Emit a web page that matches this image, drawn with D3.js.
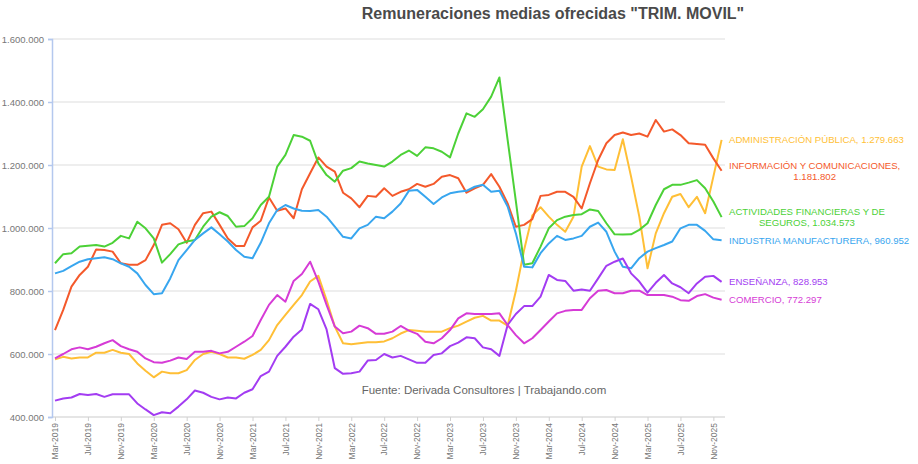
<!DOCTYPE html>
<html>
<head>
<meta charset="utf-8">
<script src="https://cdn.jsdelivr.net/npm/d3@7"></script>
<style>
body { margin: 0; background: #fff; }
text { font-family: "Liberation Sans", Arial, sans-serif; }
</style>
</head>
<body>
<script>
// salaries in thousands of pesos, one value per month, Mar-2019 .. Dic-2025
const firstMonth = new Date(2019, 2, 1)
const lastMonth = new Date(2025, 11, 1)
const monthNames = ['Ene', 'Feb', 'Mar', 'Abr', 'May', 'Jun', 'Jul', 'Ago', 'Sep', 'Oct', 'Nov', 'Dic']
const yTicks = [400, 600, 800, 1000, 1200, 1400, 1600]

const seriesNames = ['ADMINISTRACIÓN PÚBLICA', 'INFORMACIÓN Y COMUNICACIONES', 'ACTIVIDADES FINANCIERAS Y DE SEGUROS',
    'INDUSTRIA MANUFACTURERA', 'ENSEÑANZA', 'COMERCIO']
const seriesColors = ['#ffbf36', '#f4592b', '#4cd137', '#38a6ef', '#a33cf2', '#d63bd6']

const administracion = [583, 591, 586, 589, 589, 604, 604, 613, 604, 600, 570, 547, 526, 544, 539, 539, 549, 581, 600, 607,
    600, 589, 589, 585, 597, 613, 644, 692, 724, 756, 787, 830, 848, 771, 687, 634, 631, 634, 637, 637,
    640, 650, 665, 676, 674, 671, 671, 671, 682, 690, 703, 715, 721, 706, 706, 690, 800, 930, 1040, 1066,
    1036, 1010, 988, 1036, 1195, 1260, 1195, 1186, 1184, 1282, 1163, 1036, 872, 983, 1047, 1099, 1108, 1066, 1099, 1047,
    1163, 1279.663]
const informacion = [676, 740, 814, 851, 877, 932, 930, 925, 888, 883, 883, 898, 946, 1010, 1015, 996, 953, 1010, 1047, 1052,
    1010, 967, 943, 943, 1002, 1023, 1097, 1055, 1062, 1031, 1123, 1174, 1224, 1195, 1179, 1112, 1094, 1066, 1102, 1099,
    1126, 1102, 1115, 1123, 1140, 1131, 1140, 1163, 1168, 1158, 1112, 1126, 1137, 1171, 1131, 1078, 1004, 1010, 1028, 1102,
    1105, 1115, 1115, 1099, 1062, 1142, 1216, 1269, 1295, 1303, 1295, 1300, 1290, 1343, 1306, 1313, 1295, 1269, 1267, 1264,
    1221, 1181.802]
const financieras = [888, 917, 920, 941, 944, 946, 941, 953, 975, 967, 1020, 999, 967, 890, 917, 948, 957, 962, 1004, 1036,
    1050, 1038, 1004, 1006, 1031, 1073, 1099, 1195, 1232, 1295, 1290, 1277, 1205, 1168, 1147, 1182, 1190, 1211, 1205, 1200,
    1195, 1211, 1232, 1246, 1229, 1256, 1253, 1242, 1224, 1300, 1364, 1353, 1377, 1417, 1478, 1280, 1085, 883, 888, 941,
    999, 1025, 1036, 1041, 1044, 1059, 1054, 1015, 980, 979, 980, 994, 1015, 1073, 1123, 1137, 1137, 1144, 1152, 1126,
    1084, 1034.573]
const industria = [856, 864, 879, 893, 901, 904, 907, 901, 888, 877, 856, 819, 790, 793, 840, 898, 930, 962, 983, 1002,
    980, 957, 930, 909, 904, 953, 1015, 1057, 1073, 1062, 1055, 1054, 1057, 1036, 1004, 972, 967, 999, 1010, 1036,
    1031, 1052, 1078, 1118, 1121, 1099, 1076, 1097, 1110, 1115, 1118, 1131, 1137, 1115, 1118, 1068, 983, 877, 875, 920,
    951, 975, 962, 967, 975, 1004, 1017, 988, 925, 877, 872, 904, 925, 936, 946, 957, 999, 1010, 1010, 991,
    964, 960.952]
const ensenanza = [452, 459, 462, 473, 470, 473, 464, 472, 472, 472, 443, 424, 406, 415, 412, 433, 456, 484, 477, 464,
    456, 462, 459, 477, 488, 530, 544, 594, 623, 655, 678, 759, 742, 678, 555, 537, 539, 544, 579, 581,
    600, 589, 594, 583, 572, 572, 597, 602, 625, 636, 653, 650, 621, 615, 594, 692, 727, 752, 752, 782,
    851, 835, 832, 801, 805, 801, 840, 880, 893, 903, 856, 830, 795, 826, 851, 824, 812, 793, 824, 845,
    848, 828.953]
const comercio = [586, 600, 615, 621, 615, 623, 634, 644, 625, 615, 607, 586, 574, 572, 579, 589, 584, 607, 607, 610,
    602, 607, 623, 639, 657, 708, 756, 787, 766, 832, 854, 893, 830, 756, 687, 666, 671, 690, 682, 664,
    664, 671, 689, 674, 664, 639, 634, 650, 676, 713, 729, 727, 727, 727, 729, 692, 660, 634, 650, 676,
    703, 729, 737, 740, 740, 777, 801, 803, 793, 793, 801, 801, 787, 787, 787, 782, 771, 769, 784, 790,
    779, 772.297]

const allSeries = [administracion, informacion, financieras, industria, ensenanza, comercio]

window.onload = function() {
    const width = 918
    const height = 464
    const left = 52, right = 725, top = 39, bottom = 417

    const svg = d3.select('body')
        .append('svg')
        .attr('width', width)
        .attr('height', height)

    const es = d3.formatLocale({decimal: ',', thousands: '.', grouping: [3], currency: ['$', '']})
    const fmt = es.format(',.0f')

    const months = d3.timeMonth.range(firstMonth, d3.timeMonth.offset(lastMonth, 1))
    const monthLabel = d => monthNames[d.getMonth()] + '-' + d.getFullYear()

    const x = d3.scalePoint()
        .domain(months.map(monthLabel))
        .range([55, 721.6])

    const y = d3.scaleLinear()
        .domain([400, 1600])
        .range([bottom, top])

    // title
    svg.append('text')
        .attr('x', 553)
        .attr('y', 19)
        .attr('text-anchor', 'middle')
        .style('font-size', '16px')
        .style('font-weight', 'bold')
        .style('fill', '#4a4a4a')
        .text('Remuneraciones medias ofrecidas "TRIM. MOVIL"')

    // horizontal grid
    svg.append('g')
        .selectAll('line')
        .data(yTicks)
        .enter()
        .append('line')
        .attr('x1', left)
        .attr('x2', right)
        .attr('y1', d => y(d))
        .attr('y2', d => y(d))
        .attr('stroke', d => d === 400 ? '#dcdcdc' : '#e8e8e8')
        .attr('stroke-width', 1.5)

    // y axis
    const yAxis = svg.append('g')
        .attr('transform', 'translate(' + left + ',0)')
        .call(d3.axisLeft(y).tickValues(yTicks).tickSize(4).tickPadding(4).tickFormat(d => fmt(d * 1000)))
    yAxis.select('.domain').attr('stroke', '#b4c8ee').attr('stroke-width', 1.5)
    yAxis.selectAll('.tick line').attr('stroke', '#b4c8ee').attr('stroke-width', 1.5)
    yAxis.selectAll('.tick text')
        .style('font-size', '9.5px')
        .style('fill', '#777')
        .style('font-family', '"Liberation Sans", Arial, sans-serif')

    // x axis
    const tickMonths = x.domain().filter((d, i) => i % 4 === 0)
    const xAxis = svg.append('g')
        .attr('transform', 'translate(0,' + bottom + ')')
        .call(d3.axisBottom(x).tickValues(tickMonths).tickSize(4))
    xAxis.select('.domain').remove()
    xAxis.selectAll('.tick line').attr('stroke', '#d0d0d0')
    xAxis.selectAll('.tick text')
        .attr('transform', 'rotate(-90)')
        .attr('text-anchor', 'end')
        .attr('x', -6)
        .attr('y', 0)
        .attr('dy', '0.32em')
        .style('font-size', '8.5px')
        .style('fill', '#777')
        .style('font-family', '"Liberation Sans", Arial, sans-serif')

    // source
    svg.append('text')
        .attr('x', 484)
        .attr('y', 394)
        .attr('text-anchor', 'middle')
        .style('font-size', '11.5px')
        .style('fill', '#666')
        .text('Fuente: Derivada Consultores | Trabajando.com')

    // lines
    const line = d3.line()
        .x((d, i) => x(x.domain()[i]))
        .y(d => y(d))

    svg.append('g')
        .selectAll('path')
        .data(allSeries)
        .enter()
        .append('path')
        .attr('d', d => line(d))
        .attr('fill', 'none')
        .attr('stroke', (d, i) => seriesColors[i])
        .attr('stroke-width', 2)
        .attr('stroke-linejoin', 'round')

    // end labels, wrapped when too long
    const labels = svg.append('g')
    allSeries.forEach(function(s, i) {
        const last = s[s.length - 1]
        const words = (seriesNames[i] + ', ' + fmt(last * 1000)).split(' ')
        const t = labels.append('text')
            .style('font-size', '9.6px')
            .style('fill', seriesColors[i])
        const lines = []
        let current = []
        const probe = t.append('tspan')
        words.forEach(function(w) {
            const attempt = current.concat([w]).join(' ')
            probe.text(attempt)
            if (probe.node().getComputedTextLength() > 188 && current.length) {
                lines.push(current.join(' '))
                current = [w]
            } else {
                current.push(w)
            }
        })
        lines.push(current.join(' '))
        let widest = 0
        lines.forEach(function(l) {
            probe.text(l)
            widest = Math.max(widest, probe.node().getComputedTextLength())
        })
        probe.remove()
        const lh = 11
        const y0 = y(last) - (lines.length - 1) * lh / 2
        lines.forEach(function(l, j) {
            t.append('tspan')
                .attr('x', lines.length > 1 ? 729 + widest / 2 : 729)
                .attr('text-anchor', lines.length > 1 ? 'middle' : 'start')
                .attr('y', y0 + j * lh)
                .attr('dy', '0.35em')
                .text(l)
        })
    })
}
</script>
</body>
</html>
